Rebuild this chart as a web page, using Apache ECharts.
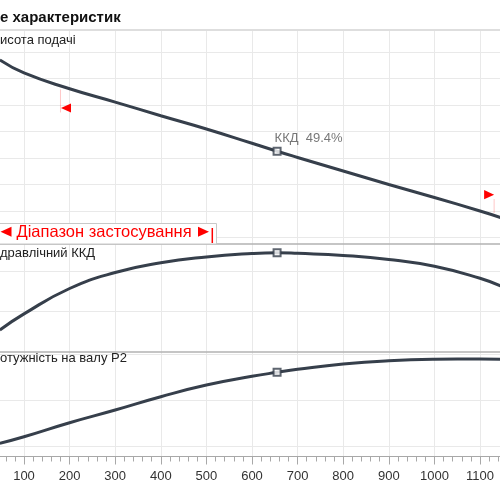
<!DOCTYPE html>
<html>
<head>
<meta charset="utf-8">
<script src="https://cdn.jsdelivr.net/npm/echarts@6/dist/echarts.min.js"></script>
<style>
html,body{margin:0;padding:0;background:#fff;}
#chart{width:500px;height:500px;}
</style>
</head>
<body>
<div id="chart"></div>
<script>
// ---- data ----
const flow       = [47, 100, 200, 300, 400, 500, 600, 655, 700, 800, 900, 1000, 1100, 1145];
const head       = [15.40, 14.42, 13.23, 12.22, 11.19, 10.19, 9.11, 8.51, 8.04, 7.02, 6.00, 5.02, 4.00, 3.51];
const efficiency = [10.75, 18.8, 31.5, 39.5, 44.35, 47.25, 49.0, 49.4, 49.1, 48.05, 46.05, 42.6, 36.6, 32.75];
const power      = [2.059, 2.202, 2.507, 2.783, 3.072, 3.326, 3.515, 3.602, 3.667, 3.783, 3.854, 3.885, 3.891, 3.885];

const bepFlow  = 655;
const bepHead  = 8.51;
const bepEta   = 49.4;
const bepPower = 3.602;

const rangeFlow = [180, 1131];
const rangeHead = [13.40, 3.62];

const headGridValues  = [2, 4, 6, 8, 10, 12, 14, 16];
const etaGridValues   = [20, 40];
const powerGridValues = [2, 3, 4];

const titleText  = 'е характеристик';
const headLabel  = 'исота подачі';
const etaLabel   = 'дравлічний ККД';
const powerLabel = 'отужність на валу P2';
const rangeText  = 'Діапазон застосування';

// ---- chart ----
const FONT = "'Liberation Sans', Arial, sans-serif";
const CURVE = '#363f4b';
const GRIDC = '#e9e9e9';
const SMOOTH = 0.5;
const pairs = (ys) => flow.map((f, i) => [f, ys[i]]);

const gridLineMark = (vals) => ({
  silent: true, symbol: 'none', z: 1, animation: false,
  label: { show: false },
  lineStyle: { color: GRIDC, width: 1, type: 'solid' },
  emphasis: { disabled: true },
  data: vals.map(v => ({ yAxis: v }))
});

const baseX = (gi) => ({
  gridIndex: gi, type: 'value', min: 0, max: 1200, interval: 100,
  axisLine: { show: true, onZero: false, lineStyle: { color: '#b2b2b2', width: 1.5 } },
  axisTick: { show: false }, axisLabel: { show: false },
  splitLine: { show: true, lineStyle: { color: GRIDC, width: 1 } }
});

const x2 = baseX(2);
x2.axisLine = { show: true, onZero: false, lineStyle: { color: '#a8a8a8', width: 1 } };
x2.axisTick = { show: true, length: 8, lineStyle: { color: '#a8a8a8' } };
x2.minorTick = { show: true, splitNumber: 5, length: 5, lineStyle: { color: '#a8a8a8' } };
x2.axisLabel = { show: true, color: '#333', fontSize: 13, fontFamily: FONT, margin: 13,
                 showMinLabel: false, showMaxLabel: false, formatter: (v) => String(v) };

const gridBase = { left: -21.6, right: -25.6, containLabel: false, outerBoundsMode: 'none' };

const option = {
  animation: false,
  backgroundColor: '#fff',
  grid: [
    Object.assign({}, gridBase, { top: 30, height: 214 }),
    Object.assign({}, gridBase, { top: 244, height: 107.5 }),
    Object.assign({}, gridBase, { top: 351.5, height: 105 })
  ],
  xAxis: [
    baseX(0), baseX(1), x2,
    { gridIndex: 0, type: 'value', position: 'top', min: 0, max: 1200,
      axisLine: { show: true, onZero: false, lineStyle: { color: '#dedede', width: 2 } },
      axisTick: { show: false }, axisLabel: { show: false }, splitLine: { show: false } }
  ],
  yAxis: [
    { gridIndex: 0, type: 'value', min: 1.509, max: 17.66, show: false },
    { gridIndex: 1, type: 'value', min: 0, max: 53.75, show: false },
    { gridIndex: 2, type: 'value', min: 1.772, max: 4.055, show: false }
  ],
  series: [
    { type: 'line', xAxisIndex: 0, yAxisIndex: 0, data: pairs(head), smooth: SMOOTH,
      symbol: 'none', z: 2, lineStyle: { color: CURVE, width: 3 },
      markLine: gridLineMark(headGridValues) },
    { type: 'line', xAxisIndex: 1, yAxisIndex: 1, data: pairs(efficiency), smooth: SMOOTH,
      symbol: 'none', z: 2, lineStyle: { color: CURVE, width: 3 },
      markLine: gridLineMark(etaGridValues) },
    { type: 'line', xAxisIndex: 2, yAxisIndex: 2, data: pairs(power), smooth: SMOOTH,
      symbol: 'none', z: 2, lineStyle: { color: CURVE, width: 3 },
      markLine: gridLineMark(powerGridValues) },
    { type: 'scatter', xAxisIndex: 0, yAxisIndex: 0, data: [[bepFlow, bepHead]], z: 4,
      symbol: 'rect', symbolSize: 7,
      itemStyle: { color: '#fff', borderColor: CURVE, borderWidth: 2 },
      label: { show: true, formatter: 'ККД  ' + bepEta + '%', position: [2, -15],
               color: '#555', fontSize: 13, fontFamily: FONT } },
    { type: 'scatter', xAxisIndex: 1, yAxisIndex: 1, data: [[bepFlow, bepEta]], z: 4,
      symbol: 'rect', symbolSize: 7,
      itemStyle: { color: '#fff', borderColor: CURVE, borderWidth: 2 } },
    { type: 'scatter', xAxisIndex: 2, yAxisIndex: 2, data: [[bepFlow, bepPower]], z: 4,
      symbol: 'rect', symbolSize: 7,
      itemStyle: { color: '#fff', borderColor: CURVE, borderWidth: 2 } },
    { type: 'custom', xAxisIndex: 0, yAxisIndex: 0, z: 3, silent: true,
      data: rangeFlow.map((f, i) => [f, rangeHead[i], i === 0 ? -1 : 1]),
      renderItem: function (params, api) {
        const p = api.coord([api.value(0), api.value(1)]);
        const dir = api.value(2);
        const faint = { stroke: 'rgba(255,0,0,0.22)', lineWidth: 1 };
        if (dir < 0) {
          return { type: 'group', children: [
            { type: 'line', shape: { x1: p[0], y1: p[1] + 3, x2: p[0], y2: p[1] + 26 }, style: faint },
            { type: 'polygon', shape: { points: [[p[0] + 0.5, p[1] + 21.5], [p[0] + 10.5, p[1] + 17], [p[0] + 10.5, p[1] + 26]] },
              style: { fill: '#ff0000' } }
          ]};
        }
        return { type: 'group', children: [
          { type: 'line', shape: { x1: p[0], y1: p[1] - 3, x2: p[0], y2: p[1] - 17 }, style: faint },
          { type: 'polygon', shape: { points: [[p[0], p[1] - 21.3], [p[0] - 10, p[1] - 26], [p[0] - 10, p[1] - 16.7]] },
            style: { fill: '#ff0000' } }
        ]};
      }
    }
  ],
  graphic: [
    { type: 'text', x: 0, y: 17.5, z: 100,
      style: { text: titleText, font: 'bold 15px ' + FONT, fill: '#111', verticalAlign: 'middle' } },
    { type: 'text', x: 0, y: 40.5, z: 100,
      style: { text: headLabel, font: '13px ' + FONT, fill: '#222', verticalAlign: 'middle' } },
    { type: 'text', x: 0, y: 253, z: 100,
      style: { text: etaLabel, font: '13px ' + FONT, fill: '#222', verticalAlign: 'middle' } },
    { type: 'text', x: 0, y: 358.5, z: 100,
      style: { text: powerLabel, font: '13px ' + FONT, fill: '#222', verticalAlign: 'middle' } },
    { type: 'rect', z: 100, shape: { x: -5, y: 223.5, width: 221.5, height: 20.5 },
      style: { fill: '#fff', stroke: '#c8c8c8', lineWidth: 1 } },
    { type: 'polygon', z: 101, shape: { points: [[0.5, 231.7], [11.5, 226.7], [11.5, 236.7]] },
      style: { fill: '#ff0000' } },
    { type: 'text', x: 16.5, y: 232.5, z: 101,
      style: { text: rangeText, font: '16.5px ' + FONT, fill: '#ff0000', verticalAlign: 'middle' } },
    { type: 'polygon', z: 101, shape: { points: [[209, 231.7], [198, 226.7], [198, 236.7]] },
      style: { fill: '#ff0000' } },
    { type: 'line', z: 101, shape: { x1: 212.3, y1: 228, x2: 212.3, y2: 243 },
      style: { stroke: '#ff0000', lineWidth: 1.5 } }
  ]
};

const chart = echarts.init(document.getElementById('chart'), null, { renderer: 'canvas' });
chart.setOption(option);
</script>
</body>
</html>
